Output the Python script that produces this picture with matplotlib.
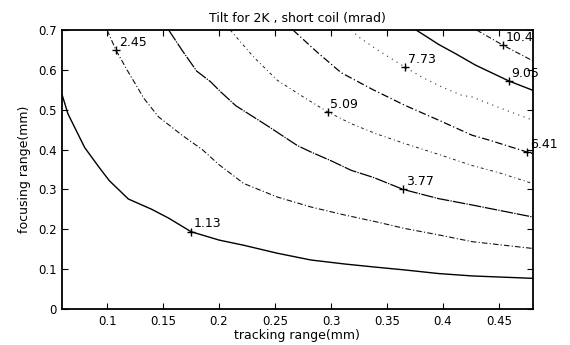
import matplotlib
matplotlib.use("Agg")
import matplotlib.pyplot as plt

plt.rcParams['font.family'] = ['DejaVu Sans']

# Contour levels (mrad) and their traced lines (tracking range, focusing range)
levels = [1.13, 2.45, 3.77, 5.09, 6.41, 7.73, 9.05, 10.4]

line_113_x = [0.06, 0.065, 0.080, 0.093, 0.102, 0.119, 0.140, 0.155, 0.175, 0.200, 0.222, 0.252, 0.282, 0.312, 0.340, 0.366, 0.396, 0.426, 0.48]
line_113_y = [0.536, 0.490, 0.405, 0.355, 0.322, 0.276, 0.250, 0.228, 0.194, 0.173, 0.160, 0.140, 0.123, 0.113, 0.105, 0.098, 0.089, 0.083, 0.077]

line_245_x = [0.100, 0.108, 0.118, 0.133, 0.146, 0.167, 0.185, 0.200, 0.222, 0.252, 0.282, 0.312, 0.340, 0.366, 0.396, 0.426, 0.48]
line_245_y = [0.700, 0.649, 0.599, 0.528, 0.482, 0.436, 0.400, 0.362, 0.315, 0.281, 0.256, 0.236, 0.219, 0.202, 0.186, 0.169, 0.152]

line_377_x = [0.155, 0.167, 0.180, 0.1925, 0.2014, 0.215, 0.243, 0.270, 0.282, 0.300, 0.318, 0.338, 0.3645, 0.396, 0.426, 0.48]
line_377_y = [0.700, 0.649, 0.597, 0.570, 0.545, 0.510, 0.460, 0.410, 0.394, 0.372, 0.348, 0.330, 0.300, 0.277, 0.261, 0.231]

line_509_x = [0.210, 0.231, 0.252, 0.273, 0.297, 0.318, 0.340, 0.366, 0.396, 0.426, 0.450, 0.48]
line_509_y = [0.700, 0.632, 0.574, 0.536, 0.4945, 0.465, 0.440, 0.415, 0.388, 0.360, 0.342, 0.315]

line_641_x = [0.266, 0.287, 0.309, 0.337, 0.366, 0.396, 0.426, 0.441, 0.475, 0.48]
line_641_y = [0.700, 0.646, 0.593, 0.551, 0.511, 0.474, 0.436, 0.424, 0.394, 0.390]

line_773_x = [0.318, 0.325, 0.340, 0.354, 0.366, 0.381, 0.399, 0.417, 0.426, 0.456, 0.48]
line_773_y = [0.700, 0.682, 0.653, 0.628, 0.607, 0.582, 0.557, 0.536, 0.532, 0.499, 0.474]

line_905_x = [0.376, 0.385, 0.396, 0.411, 0.429, 0.459, 0.48]
line_905_y = [0.700, 0.684, 0.664, 0.641, 0.612, 0.572, 0.549]

line_104_x = [0.430, 0.4535, 0.478, 0.48]
line_104_y = [0.700, 0.662, 0.626, 0.623]

# Label anchor points ("+" markers) on each line
label_x = [0.1745, 0.108, 0.3645, 0.297, 0.475, 0.366, 0.4588, 0.4535]
label_y = [0.194, 0.649, 0.300, 0.4945, 0.394, 0.607, 0.571, 0.662]
label_text = ['1.13', '2.45', '3.77', '5.09', '6.41', '7.73', '9.05', '10.4']

xticks = [0.1, 0.15, 0.2, 0.25, 0.3, 0.35, 0.4, 0.45]
yticks = [0, 0.1, 0.2, 0.3, 0.4, 0.5, 0.6, 0.7]

lines = [
    (line_113_x, line_113_y, '-', '#000000', 1.0),
    (line_245_x, line_245_y, (0, (5, 2, 1, 2)), '#111111', 0.8),
    (line_377_x, line_377_y, (0, (10, 1, 1, 1)), '#000000', 0.9),
    (line_509_x, line_509_y, (0, (3, 3, 1, 3)), '#222222', 0.7),
    (line_641_x, line_641_y, (0, (6, 2, 1, 2)), '#000000', 0.9),
    (line_773_x, line_773_y, (0, (1, 4)), '#333333', 0.8),
    (line_905_x, line_905_y, '-', '#000000', 1.0),
    (line_104_x, line_104_y, (0, (5, 2, 1, 2)), '#111111', 0.8),
]

fig = plt.figure(figsize=(5.7, 3.45), dpi=100)
ax = fig.add_axes([0.1093, 0.1043, 0.8250, 0.8087])

for xs, ys, ls, c, lw in lines:
    ax.plot(xs, ys, linestyle=ls, color=c, linewidth=lw)

ax.plot(label_x, label_y, linestyle='none', marker='+', color='black',
        markersize=6, markeredgewidth=1.0, clip_on=False)
for lx, ly, t in zip(label_x, label_y, label_text):
    ax.annotate(t, (lx, ly), xytext=(2, 1), textcoords='offset points',
                ha='left', va='bottom', fontsize=9, annotation_clip=False)

ax.set_xlim(0.06, 0.48)
ax.set_ylim(0, 0.7)
ax.set_xticks(xticks)
ax.set_xticklabels([f'{v:g}' for v in xticks])
ax.set_yticks(yticks)
ax.set_yticklabels([f'{v:g}' for v in yticks])
ax.tick_params(direction='in', length=4, width=0.8, top=True, right=True,
               labelsize=8.5, pad=4)
for s in ax.spines.values():
    s.set_linewidth(1.3)

ax.set_title('Tilt for 2K , short coil (mrad)', fontsize=9, pad=6)
ax.set_xlabel('tracking range(mm)', fontsize=9, labelpad=1)
ax.set_ylabel('focusing range(mm)', fontsize=9, labelpad=5)

fig.savefig('out.png', dpi=100)
